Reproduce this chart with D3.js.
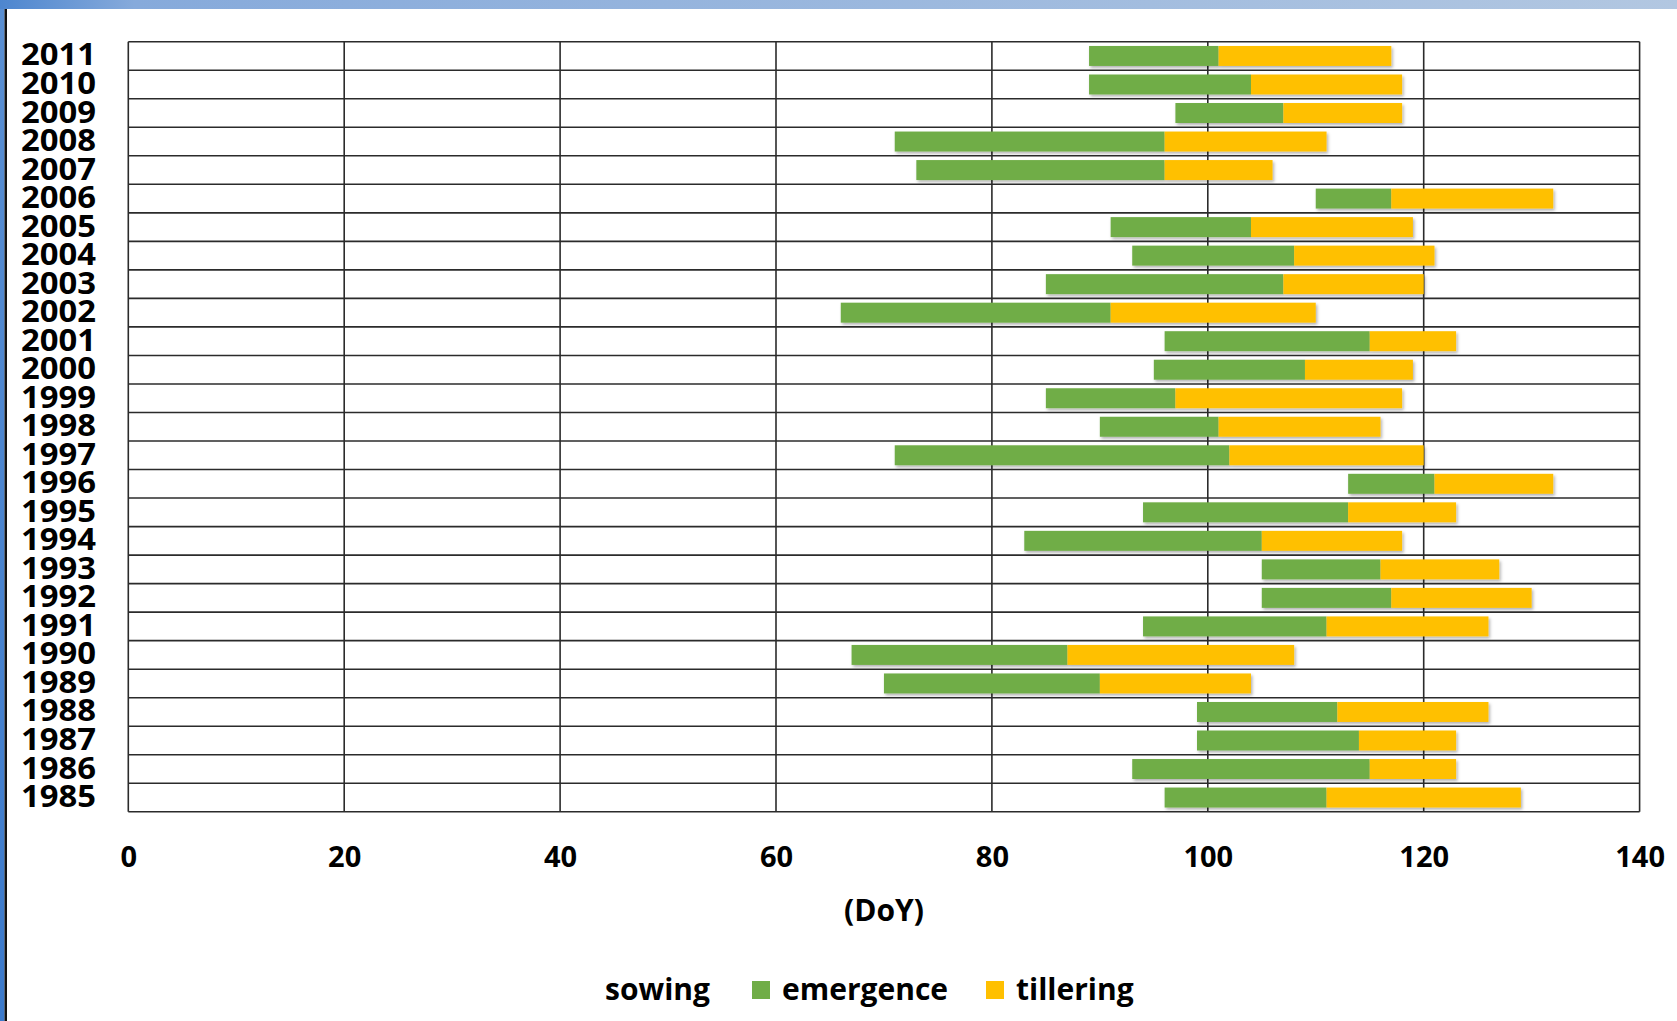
<!DOCTYPE html>
<html>
<head>
<meta charset="utf-8">
<script src="https://cdn.jsdelivr.net/npm/d3@7/dist/d3.min.js"></script>
<style>
  html, body { margin: 0; padding: 0; background: #fff; }
  svg { display: block; }
  text { font-family: "Open Sans", "Noto Sans", sans-serif; font-weight: 700; fill: #000; }
</style>
</head>
<body>
<svg id="chart" width="1677" height="1021"></svg>
<script>
// ---- data (Day of Year) ----
const years     = [1985,1986,1987,1988,1989,1990,1991,1992,1993,1994,1995,1996,1997,1998,1999,2000,2001,2002,2003,2004,2005,2006,2007,2008,2009,2010,2011];
const sowing    = [96, 93, 99, 99, 70, 67, 94,105,105, 83, 94,113, 71, 90, 85, 95, 96, 66, 85, 93, 91,110, 73, 71, 97, 89, 89];
const emergence = [111,115,114,112, 90, 87,111,117,116,105,113,121,102,101, 97,109,115, 91,107,108,104,117, 96, 96,107,104,101];
const tillering = [129,123,123,126,104,108,126,130,127,118,123,132,120,116,118,119,123,110,120,121,119,132,106,111,118,118,117];
const xTicks    = [0,20,40,60,80,100,120,140];
const seriesNames = ["sowing","emergence","tillering"];
const seriesColors = ["none","#70AD47","#FFC000"];
const axisTitle = "(DoY)";

const svg = d3.select("#chart");
const W = 1677, H = 1021;

// frame decoration
const defs = svg.append("defs");
const tg = defs.append("linearGradient").attr("id","topg").attr("x1","0").attr("x2","1").attr("y1","0").attr("y2","0");
tg.append("stop").attr("offset","0%").attr("stop-color","#4d86cf");
tg.append("stop").attr("offset","8%").attr("stop-color","#86aadb");
tg.append("stop").attr("offset","100%").attr("stop-color","#b2c7e1");
const lg = defs.append("linearGradient").attr("id","leftg").attr("x1","0").attr("x2","0").attr("y1","0").attr("y2","1");
lg.append("stop").attr("offset","0%").attr("stop-color","#5a8fd2");
lg.append("stop").attr("offset","100%").attr("stop-color","#3c7acb");
const sh = defs.append("filter").attr("id","shadow").attr("x","-5%").attr("y","-30%").attr("width","110%").attr("height","170%");
sh.append("feDropShadow").attr("dx",1.5).attr("dy",2).attr("stdDeviation",1.5).attr("flood-color","#000").attr("flood-opacity",0.3);

svg.append("rect").attr("x",0).attr("y",0).attr("width",W).attr("height",H).attr("fill","#fff");
svg.append("rect").attr("x",0).attr("y",0).attr("width",W).attr("height",9).attr("fill","url(#topg)");
svg.append("rect").attr("x",0).attr("y",9).attr("width",4.5).attr("height",H-9).attr("fill","url(#leftg)");
svg.append("rect").attr("x",4.5).attr("y",9).attr("width",2.5).attr("height",H-9).attr("fill","#111");

// plot area
const plot = {left:128.3, right:1639.6, top:41.7, bottom:811.8};

const x = d3.scaleLinear().domain([0,140]).range([plot.left, plot.right]);
const y = d3.scaleBand().domain(years.slice().reverse()).range([plot.top, plot.bottom]).padding(0);
const bw = y.bandwidth();
const barH = bw * 0.7;

const g = svg.append("g");
const gridColor = "#2b2b2b", gridW = 1.6;

// vertical gridlines
g.selectAll("line.vg").data(xTicks).join("line")
  .attr("x1", d => x(d)).attr("x2", d => x(d))
  .attr("y1", plot.top).attr("y2", plot.bottom)
  .attr("stroke", gridColor).attr("stroke-width", gridW);

// horizontal lines at band boundaries
const bounds = years.map(yr => y(yr)).concat([plot.bottom]);
g.selectAll("line.hg").data(bounds).join("line")
  .attr("x1", plot.left).attr("x2", plot.right)
  .attr("y1", d => d).attr("y2", d => d)
  .attr("stroke", gridColor).attr("stroke-width", gridW);

// bars (stacked: sowing invisible -> emergence -> tillering)
const rows = years.map((yr,i) => ({year:yr, s:sowing[i], e:emergence[i], t:tillering[i]}));
const bars = svg.append("g").attr("filter","url(#shadow)");
bars.selectAll("rect.em").data(rows).join("rect")
  .attr("x", d => x(d.s)).attr("width", d => x(d.e) - x(d.s))
  .attr("y", d => y(d.year) + (bw - barH)/2).attr("height", barH)
  .attr("fill", seriesColors[1]);
bars.selectAll("rect.ti").data(rows).join("rect")
  .attr("x", d => x(d.e)).attr("width", d => x(d.t) - x(d.e))
  .attr("y", d => y(d.year) + (bw - barH)/2).attr("height", barH)
  .attr("fill", seriesColors[2]);

// y labels
svg.append("g").selectAll("text").data(years).join("text")
  .attr("x", 96).attr("y", d => y(d) + bw/2 + 9.5)
  .attr("text-anchor","end").style("font-size","31px")
  .attr("textLength", 75).attr("lengthAdjust","spacingAndGlyphs")
  .text(d => d);

// x axis labels
const xAxis = d3.axisBottom(x).tickValues(xTicks).tickSize(0).tickPadding(0);
const xg = svg.append("g").attr("transform", `translate(0,${plot.bottom})`).call(xAxis);
xg.select(".domain").remove();
xg.selectAll("text")
  .attr("y", 55).attr("dy", null)
  .style("font-size","29px").style("font-family","'Open Sans', sans-serif").style("font-weight","700").attr("fill","#000");

// axis title
svg.append("text").attr("x", (plot.left+plot.right)/2).attr("y", 921)
  .attr("text-anchor","middle").style("font-size","30px").text(axisTitle);

// legend
const legend = svg.append("g");
const legItems = [
  {name: seriesNames[0], color: seriesColors[0], x: 605},
  {name: seriesNames[1], color: seriesColors[1], x: 752},
  {name: seriesNames[2], color: seriesColors[2], x: 986}
];
legItems.forEach(it => {
  let tx = it.x;
  if (it.color !== "none") {
    legend.append("rect").attr("x", it.x).attr("y", 981).attr("width", 18).attr("height", 18).attr("fill", it.color);
    tx = it.x + 30;
  }
  legend.append("text").attr("x", tx).attr("y", 1000).style("font-size","30px").text(it.name);
});
</script>
</body>
</html>
